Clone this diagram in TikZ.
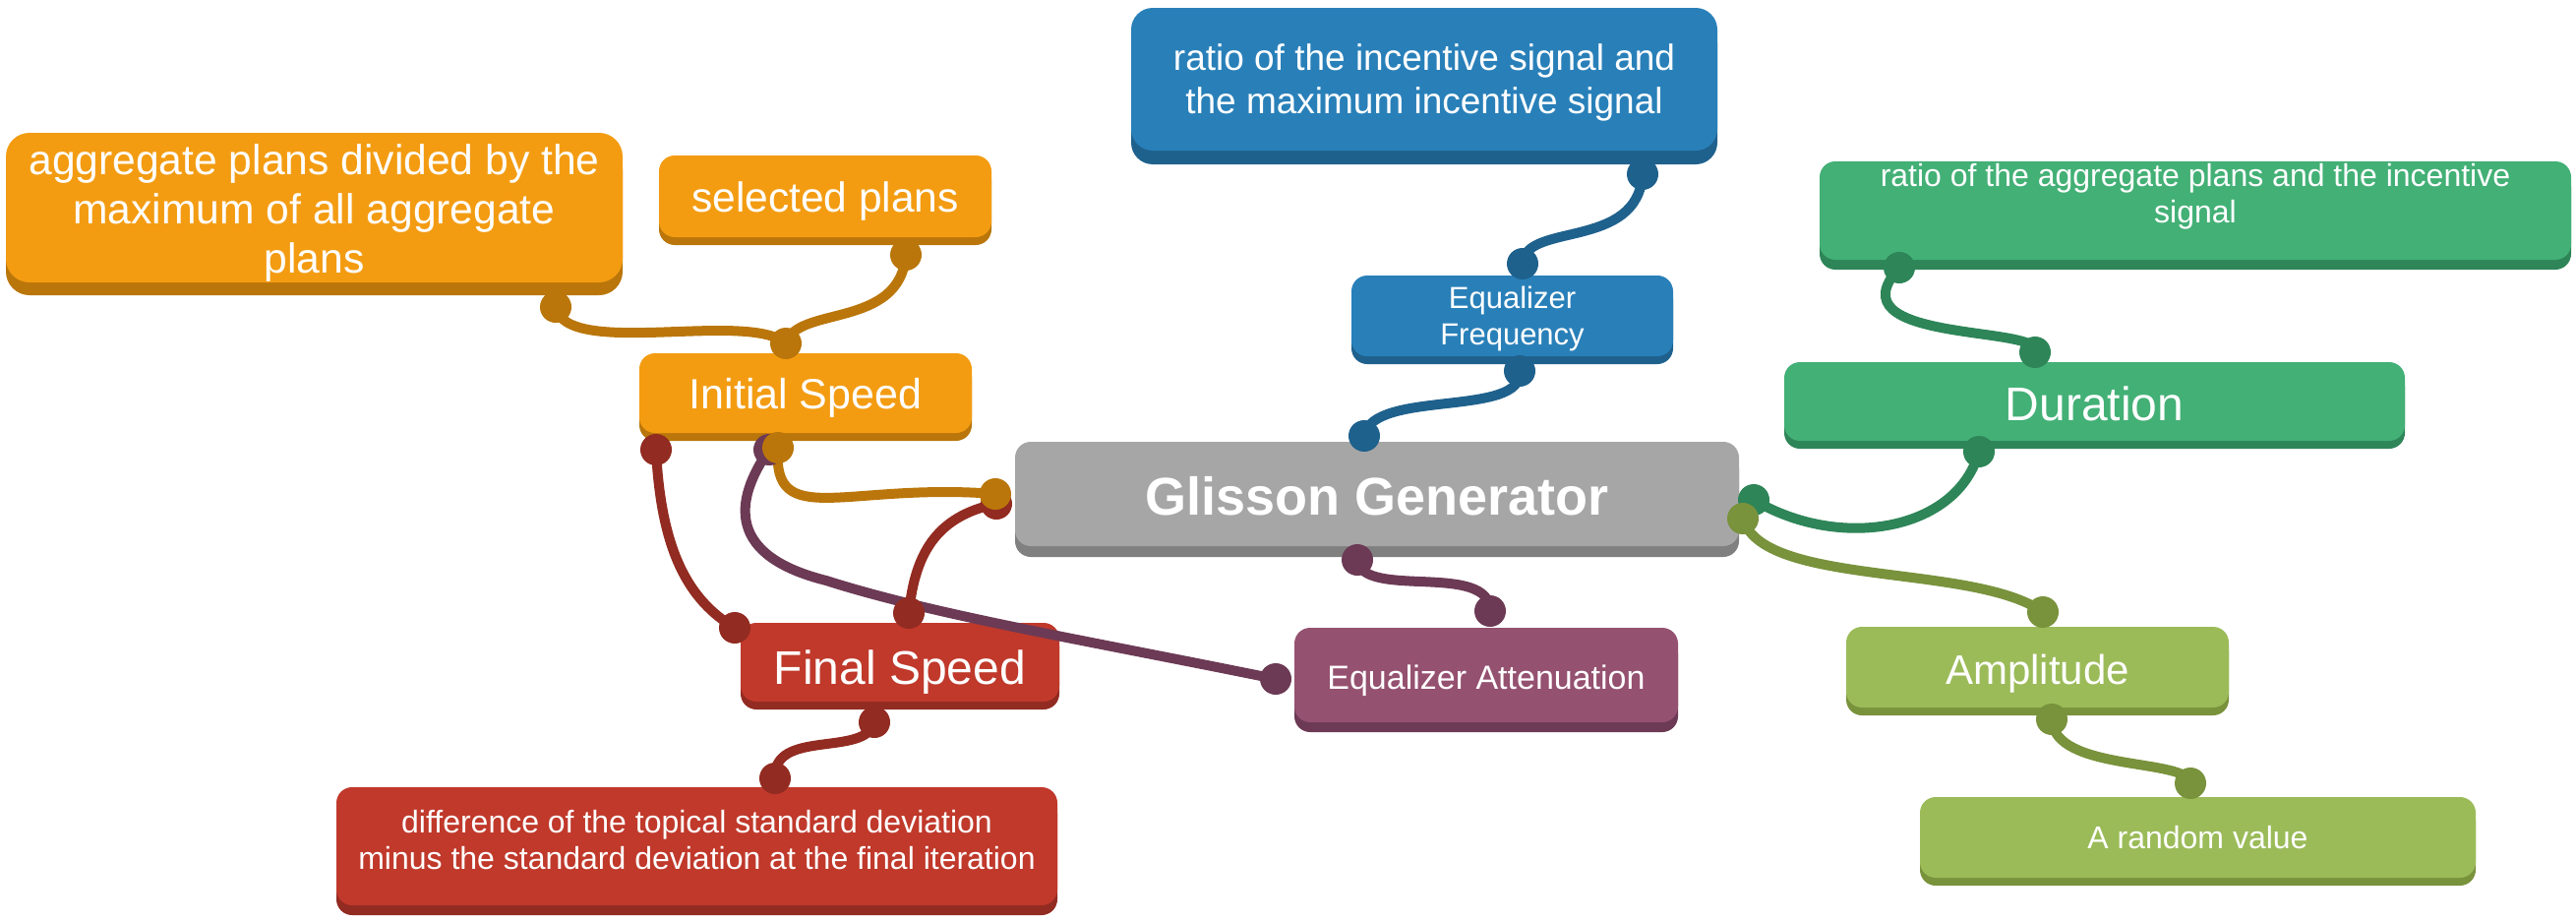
\documentclass[tikz,border=0pt]{standalone}
\usepackage{fontspec}
\setmainfont{Liberation Sans}
\usetikzlibrary{shadows}
\definecolor{orF}{HTML}{F39C12}\definecolor{orD}{HTML}{BA760A}
\definecolor{blF}{HTML}{2980B9}\definecolor{blD}{HTML}{1F618D}
\definecolor{grF}{HTML}{43B076}\definecolor{grD}{HTML}{2E8558}
\definecolor{olF}{HTML}{9BBB59}\definecolor{olD}{HTML}{79923C}
\definecolor{rdF}{HTML}{C0392B}\definecolor{rdD}{HTML}{922B21}
\definecolor{puF}{HTML}{955170}\definecolor{puD}{HTML}{6C3A55}
\definecolor{gyF}{HTML}{A6A6A6}\definecolor{gyD}{HTML}{808080}
\newcommand{\fsz}[2]{\fontsize{#1}{#2}\selectfont}
\newcommand{\mlines}[2]{\raisebox{#1}[\height][\depth]{\begin{tabular}{@{}c@{}}#2\end{tabular}}}
\tikzset{
  box/.style n args={4}{rectangle, rounded corners=16pt, inner sep=0pt, text=white, align=center,
     fill=#1, general shadow={fill=#2, shadow yshift=-#3pt}, minimum width=#4},
  oneline/.style={text height=#1, text depth=0pt},
  wire/.style={line width=10pt, draw=#1, line cap=round},
}
\begin{document}
\begin{tikzpicture}[x=1pt,y=-1pt]
\useasboundingbox (0,0) rectangle (2619,937);
% boxes
\node[box={orF}{orD}{13}{627pt}, minimum height=152pt, rounded corners=24pt, font=\fsz{42.6}{50}] (agg) at (319.5,211)
  {\mlines{-6pt}{aggregate plans divided by the\\maximum of all aggregate\\plans}};
\node[box={orF}{orD}{8}{338pt}, minimum height=83pt, font=\fsz{42.5}{48}, oneline=31pt] (sel) at (839,199.5) {selected plans};
\node[box={orF}{orD}{8}{338pt}, minimum height=81pt, font=\fsz{43}{52}, oneline=31pt] (init) at (819,399.5) {Initial Speed};
\node[box={gyF}{gyD}{11}{736pt}, minimum height=106pt, font=\fsz{54}{60}\bfseries, oneline=43pt] (glis) at (1400,502) {Glisson Generator};
\node[box={blF}{blD}{14}{596pt}, minimum height=145pt, rounded corners=22pt, font=\fsz{37}{44}] (btop) at (1448,80.5)
  {\mlines{-4pt}{ratio of the incentive signal and\\the maximum incentive signal}};
\node[box={blF}{blD}{8}{327pt}, minimum height=82pt, font=\fsz{31}{37}] (eqf) at (1537.5,321)
  {\mlines{-4pt}{Equalizer\\Frequency}};
\node[box={grF}{grD}{10}{764pt}, minimum height=100pt, font=\fsz{32}{37}] (gtop) at (2232,214)
  {\mlines{13.5pt}{ratio of the aggregate plans and the incentive\\signal}};
\node[box={grF}{grD}{8}{631pt}, minimum height=80pt, font=\fsz{48}{54}, oneline=38pt] (dur) at (2129.5,408) {Duration};
\node[box={olF}{olD}{8}{389pt}, minimum height=82pt, font=\fsz{42}{48}, oneline=35pt] (amp) at (2071.5,678) {Amplitude};
\node[box={olF}{olD}{8}{565pt}, minimum height=82pt, font=\fsz{32}{37}, oneline=23pt] (rnd) at (2234.5,851) {A random value};
\node[box={rdF}{rdD}{8}{324pt}, minimum height=80pt, font=\fsz{48}{52}, oneline=44pt] (fin) at (915,673) {Final Speed};
\node[box={puF}{puD}{10}{390pt}, minimum height=96pt, font=\fsz{34}{40}, oneline=28.5pt] (eqa) at (1511,686) {Equalizer Attenuation};
\node[box={rdF}{rdD}{10}{733pt}, minimum height=120pt, font=\fsz{32}{37}] (diff) at (708.5,860)
  {\mlines{2.6pt}{difference of the topical standard deviation\\minus the standard deviation at the final iteration}};
% connector ends
\coordinate (aggB) at ([shift={(245.5,101)}]agg.center);
\coordinate (selB) at ([shift={(82,59.5)}]sel.center);
\coordinate (initT) at ([shift={(-20,-50.5)}]init.center);
\coordinate (initBL) at ([shift={(-152,57.5)}]init.center);
\coordinate (initB) at ([shift={(-28,55.5)}]init.center);
\coordinate (initP) at ([shift={(-37,57.5)}]init.center);
\coordinate (glisT) at ([shift={(-13,-59)}]glis.center);
\coordinate (glisL) at ([shift={(-388,0)}]glis.center);
\coordinate (glisL2) at ([shift={(-387,10)}]glis.center);
\coordinate (glisB) at ([shift={(-20,67)}]glis.center);
\coordinate (glisR) at ([shift={(383,6)}]glis.center);
\coordinate (glisR2) at ([shift={(372,25)}]glis.center);
\coordinate (btopB) at ([shift={(222,96.5)}]btop.center);
\coordinate (eqfT) at ([shift={(10.5,-53)}]eqf.center);
\coordinate (eqfB) at ([shift={(7.5,56)}]eqf.center);
\coordinate (gtopB) at ([shift={(-301,58)}]gtop.center);
\coordinate (durT) at ([shift={(-60.5,-50)}]dur.center);
\coordinate (durB) at ([shift={(-117.5,51)}]dur.center);
\coordinate (ampT) at ([shift={(5.5,-56)}]amp.center);
\coordinate (ampB) at ([shift={(14.5,53)}]amp.center);
\coordinate (rndT) at ([shift={(-7.5,-55)}]rnd.center);
\coordinate (finTL) at ([shift={(-168,-35)}]fin.center);
\coordinate (finT) at ([shift={(9,-50)}]fin.center);
\coordinate (finB) at ([shift={(-26,61)}]fin.center);
\coordinate (eqaL) at ([shift={(-214,4)}]eqa.center);
\coordinate (eqaT) at ([shift={(4,-65)}]eqa.center);
\coordinate (diffT) at ([shift={(79.5,-69)}]diff.center);
% connectors
\draw[wire=puD] (initP) .. controls +(-37,53) and +(-100,-25) .. (840,590)
   .. controls +(110,35) and +(-197,-40) .. (eqaL);
\draw[wire=puD] (glisB) .. controls +(5,41) and +(0,-51) .. (eqaT);
\draw[wire=rdD] (initBL) .. controls +(5,103) and +(-47,-28) .. (finTL);
\draw[wire=rdD] (glisL2) .. controls +(-63,13) and +(6,-58) .. (finT);
\draw[wire=rdD] (finB) .. controls +(-9,36) and +(-3,-51) .. (diffT);
\draw[wire=orD] (aggB) .. controls +(10,53) and +(-39,-34) .. (initT);
\draw[wire=orD] (selB) .. controls +(-6,76) and +(11,-39) .. (initT);
\draw[wire=orD] (initB) .. controls +(-6,85) and +(-152,-12) .. (glisL);
\draw[wire=blD] (btopB) .. controls +(-5,78) and +(2,-43) .. (eqfT);
\draw[wire=blD] (eqfB) .. controls +(5,48) and +(8,-48) .. (glisT);
\draw[wire=grD] (gtopB) .. controls +(-71,78) and +(11,-28) .. (durT);
\draw[wire=grD] (glisR) .. controls +(87,52) and +(-22,81) .. (durB);
\draw[wire=olD] (glisR2) .. controls +(20,70) and +(-70,-50) .. (ampT);
\draw[wire=olD] (ampB) .. controls +(2,54) and +(-2,-26) .. (rndT);
% dots
\foreach \c in {initP,glisB,eqaT,eqaL}{\fill[puD] (\c) circle[radius=16pt];}
\foreach \c in {initBL,finTL,glisL2,finT,finB,diffT}{\fill[rdD] (\c) circle[radius=16pt];}
\foreach \c in {aggB,selB,initT,initB,glisL}{\fill[orD] (\c) circle[radius=16pt];}
\foreach \c in {btopB,eqfT,eqfB,glisT}{\fill[blD] (\c) circle[radius=16pt];}
\foreach \c in {gtopB,durT,durB,glisR}{\fill[grD] (\c) circle[radius=16pt];}
\foreach \c in {glisR2,ampT,ampB,rndT}{\fill[olD] (\c) circle[radius=16pt];}
\end{tikzpicture}
\end{document}
